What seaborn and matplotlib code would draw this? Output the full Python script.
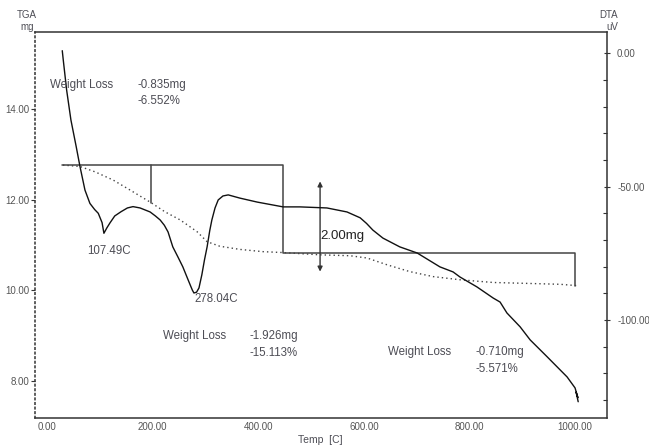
import numpy as np
import pandas as pd
import matplotlib
matplotlib.use("Agg")
import matplotlib.pyplot as plt
import seaborn as sns

# ---------------- data ----------------
dta_temp = [28.6, 30.5, 36.9, 45, 55, 62, 71.6, 81, 90, 96.8, 104, 107.5, 113, 119, 128, 140, 152, 162.6, 176, 195,
            205, 214, 222, 229, 238, 248, 257, 265, 271, 275, 278, 283, 287.6, 293, 298, 303, 308, 312, 318, 324, 333, 343, 365, 398, 428,
            447, 479, 530, 568, 593, 605, 617, 636, 668, 701, 744, 769, 782, 814, 845, 858, 871,
            896, 915, 947, 985, 1000, 1005.5, 1002, 1006]
dta_uv = [1.0, -2.5, -13.8, -25, -35, -42.3, -51.3, -56.3, -58.6, -60, -63.5, -67.5, -65.5, -63.6, -61, -59.4, -58, -57.5, -58, -59.5,
          -61, -62.5, -64.5, -67, -72.6, -76.5, -80.1, -84, -86.9, -88.8, -89.9, -89.6, -88, -83.1, -77.5, -72.6, -66.5, -62.5, -58, -55, -53.5, -53.1, -54.3, -55.8, -56.9,
          -57.6, -57.6, -58, -59.5, -61.7, -63.8, -66.3, -69.3, -72.6, -74.9, -80.1, -82, -83.9, -87.6, -91.8, -93.3, -97.4,
          -102.6, -107.5, -113.8, -121.4, -125.5, -129.2, -127.1, -130.7]

tga_temp = [30, 62, 91, 125, 157, 197, 223, 252, 284, 303, 327, 365, 409, 447, 517, 574, 606,
            644, 687, 731, 782, 845, 909, 972, 1004]
tga_mg = [12.76, 12.73, 12.61, 12.43, 12.21, 11.93, 11.73, 11.55, 11.29, 11.07, 10.97, 10.90, 10.85,
          10.83, 10.78, 10.76, 10.71, 10.56, 10.41, 10.30, 10.23, 10.17, 10.15, 10.13, 10.10]

# weight-loss step markers (temperature, mg)
step_x = [28, 447, 447, 1000, 1000]
step_y = [12.76, 12.76, 10.83, 10.83, 10.10]
step_mid_x = [197, 197]
step_mid_y = [12.76, 11.93]

# 2 mg scale bar
scale_x = 517
scale_y = [12.40, 10.41]

x_ticks = [0, 200, 400, 600, 800, 1000]
x_ticklabels = ["0.00", "200.00", "400.00", "600.00", "800.00", "1000.00"]
left_ticks = [8, 10, 12, 14]
left_ticklabels = ["8.00", "10.00", "12.00", "14.00"]
right_ticks = [0, -50, -100]
right_ticklabels = ["0.00", "-50.00", "-100.00"]

# ---------------- plot ----------------
sns.set_style("white")
plt.rcParams['font.family'] = ['Liberation Sans', 'DejaVu Sans']

W, H = 649, 446
fig = plt.figure(figsize=(W / 100, H / 100), dpi=100)
ax = fig.add_axes([34.5 / W, 1 - 418 / H, (606.7 - 34.5) / W, (418 - 32.3) / H])
ax2 = ax.twinx()

tick_col = "#555555"
txt_col = "#4d4d55"

df_tga = pd.DataFrame({"temp": tga_temp, "mg": tga_mg})
df_dta = pd.DataFrame({"temp": dta_temp, "uv": dta_uv})

sns.lineplot(data=df_tga, x="temp", y="mg", ax=ax, sort=False, estimator=None,
             color="#444444", linewidth=1.0, linestyle=(0, (1.0, 2.2)))
sns.lineplot(data=df_dta, x="temp", y="uv", ax=ax2, sort=False, estimator=None,
             color="#111111", linewidth=1.0)

ax.plot(step_x, step_y, color="#444444", linewidth=1.1)
ax.plot(step_mid_x, step_mid_y, color="#444444", linewidth=1.1)
ax.annotate("", xy=(scale_x, scale_y[0]), xytext=(scale_x, scale_y[1]),
            arrowprops=dict(arrowstyle="<|-|>", color="#333333", lw=1.0,
                            mutation_scale=7, shrinkA=0, shrinkB=0))

ax.set_xlim(-24, 1060)
ax.set_ylim(7.18, 15.69)
ax2.set_ylim(-136.8, 7.9)

ax.set_xlabel("")
ax.set_ylabel("")
ax2.set_ylabel("")

ax.set_xticks(x_ticks)
ax.set_xticklabels(x_ticklabels)
ax.set_xticks(np.arange(0, 1051, 50), minor=True)
ax.set_yticks(left_ticks)
ax.set_yticklabels(left_ticklabels)
ax2.set_yticks(right_ticks)
ax2.set_yticklabels(right_ticklabels)
ax2.set_yticks(np.arange(-130, 1, 10), minor=True)

ax.tick_params(axis="x", which="both", direction="in", length=3, width=0.8,
               colors="#333333", labelcolor=tick_col, labelsize=7, pad=3, top=False)
ax.tick_params(axis="y", which="both", direction="out", length=3, width=0.8,
               colors="#333333", labelcolor=tick_col, labelsize=7, pad=1, right=False)
ax2.tick_params(axis="y", which="major", direction="inout", length=5, width=0.8,
                colors="#333333", labelcolor=tick_col, labelsize=7, pad=5)
ax2.tick_params(axis="y", which="minor", direction="in", length=3, width=0.8, colors="#333333")

for a in (ax, ax2):
    for s in a.spines.values():
        s.set_visible(False)
ax.spines["top"].set_visible(True)
ax.spines["bottom"].set_visible(True)
ax.spines["left"].set_visible(True)
ax.spines["left"].set_linestyle((0, (1, 2)))
ax2.spines["right"].set_visible(True)
for s in ["top", "bottom", "left"]:
    ax.spines[s].set_color("#333333")
    ax.spines[s].set_linewidth(1.1)
ax2.spines["right"].set_color("#333333")
ax2.spines["right"].set_linewidth(1.1)


def ftext(px, py, s, size=8.3, ha="left", color=txt_col, **kw):
    fig.text(px / W, 1 - py / H, s, fontsize=size, ha=ha, va="center", color=color, **kw)


ftext(50, 85, "Weight Loss")
ftext(138, 85, "-0.835mg")
ftext(138, 101.5, "-6.552%")
ftext(163, 336, "Weight Loss")
ftext(250, 336, "-1.926mg")
ftext(250, 352.5, "-15.113%")
ftext(388, 352.5, "Weight Loss")
ftext(475, 352.5, "-0.710mg")
ftext(475, 369, "-5.571%")
ftext(87, 251.5, "107.49C", size=8.3)
ftext(194, 298.5, "278.04C", size=8.3)
ftext(320, 236.5, "2.00mg", size=9.5, color="#222222")

ftext(27, 15, "TGA", size=7, ha="center")
ftext(27, 27, "mg", size=7, ha="center")
ftext(609, 15, "DTA", size=7, ha="center")
ftext(612, 27, "uV", size=7, ha="center")
ftext(320, 440, "Temp  [C]", size=7.5, ha="center")

fig.savefig("out.png", dpi=100)
